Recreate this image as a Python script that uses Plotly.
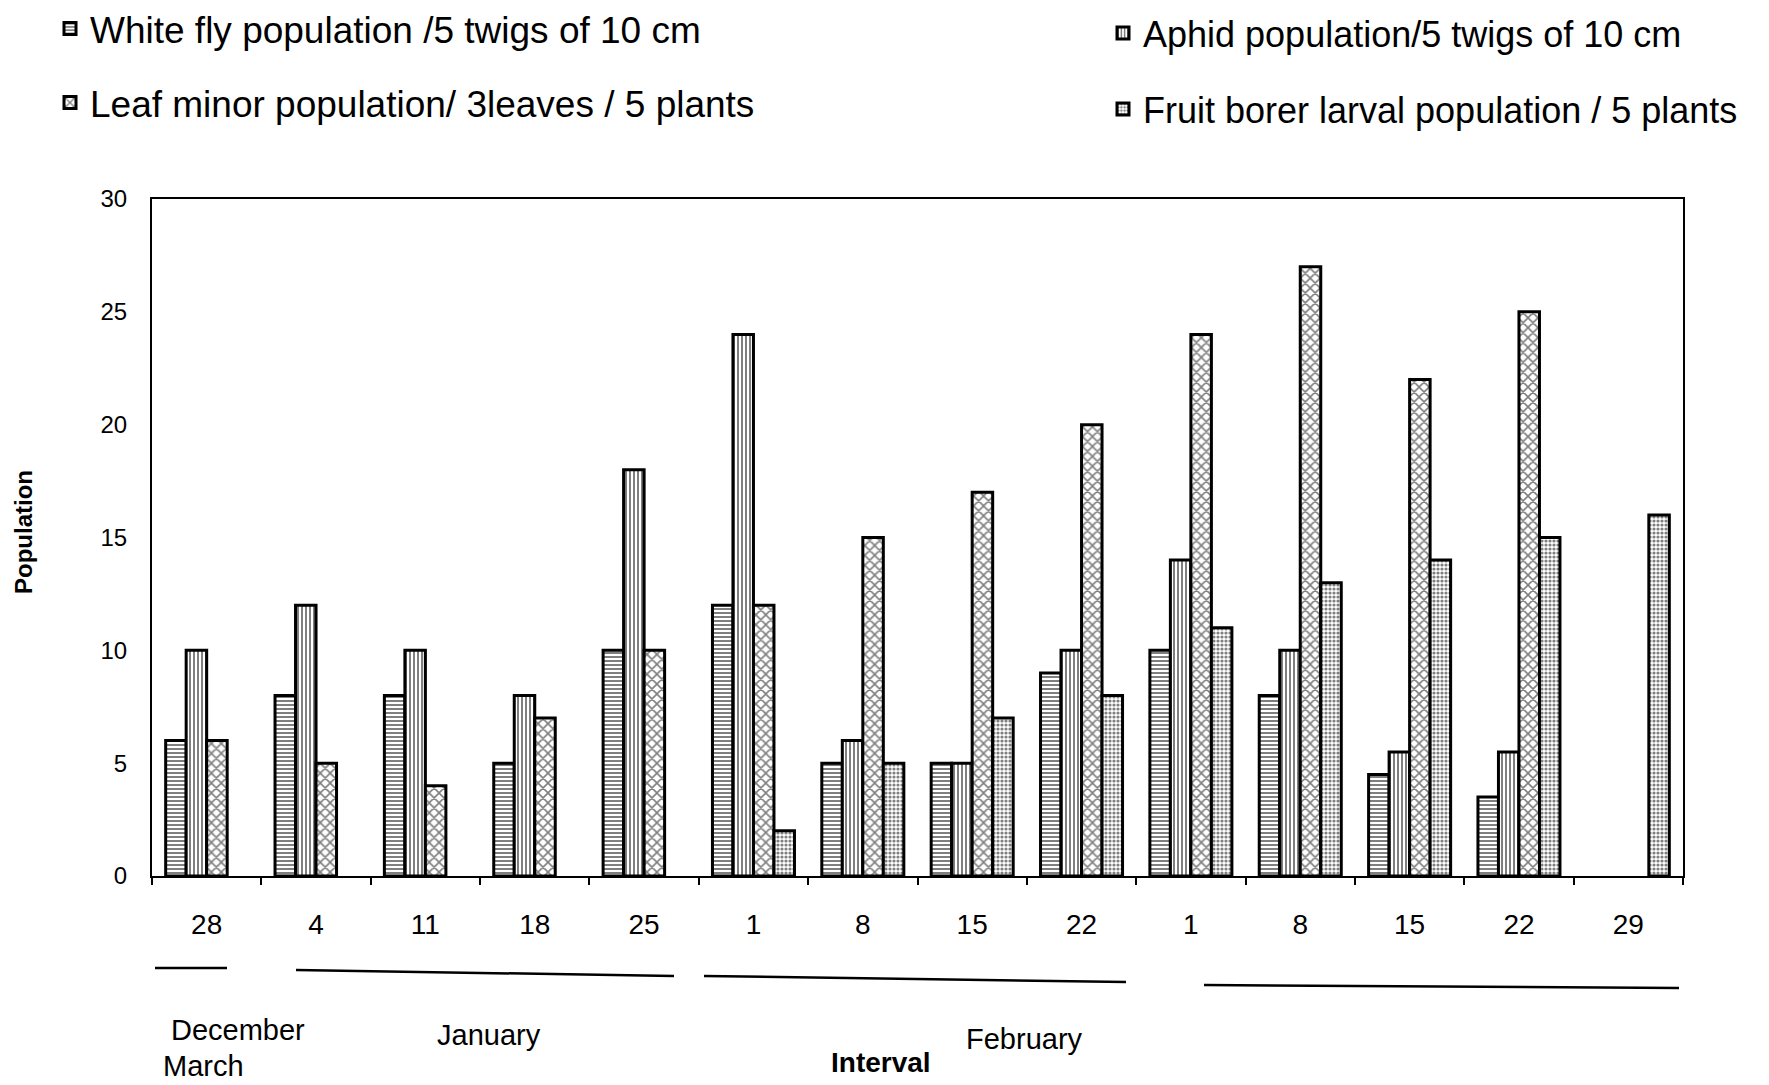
import plotly.graph_objects as go

# ---- data ----
dates = ["28", "4", "11", "18", "25", "1", "8", "15", "22", "1", "8", "15", "22", "29"]
white_fly = [6, 8, 8, 5, 10, 12, 5, 5, 9, 10, 8, 4.5, 3.5, None]
aphid = [10, 12, 10, 8, 18, 24, 6, 5, 10, 14, 10, 5.5, 5.5, None]
leaf_minor = [6, 5, 4, 7, 10, 12, 15, 17, 20, 24, 27, 22, 25, None]
fruit_borer = [None, None, None, None, None, 2, 5, 7, 8, 11, 13, 14, 15, 16]

series_names = [
    "White fly population /5 twigs of 10 cm",
    "Aphid population/5 twigs of 10 cm",
    "Leaf minor population/ 3leaves / 5 plants",
    "Fruit borer larval population / 5 plants",
]

FONT = "Arial, Liberation Sans, sans-serif"
x = list(range(len(dates)))

patterns = [
    dict(shape="-", size=4, solidity=0.5, fgcolor="black", bgcolor="white"),
    dict(shape="|", size=4, solidity=0.5, fgcolor="black", bgcolor="white"),
    dict(shape="x", size=7, solidity=0.4, fgcolor="black", bgcolor="white"),
    dict(shape=".", size=4, solidity=0.5, fgcolor="black", bgcolor="white"),
]
values = [white_fly, aphid, leaf_minor, fruit_borer]
legends = ["legend", "legend3", "legend2", "legend4"]

fig = go.Figure()
for name, vals, pat, lg in zip(series_names, values, patterns, legends):
    fig.add_trace(go.Bar(
        x=x, y=vals, name=name, legend=lg, showlegend=True,
        marker=dict(color="white", pattern=pat, line=dict(color="black", width=3)),
    ))

W, H = 1769, 1085
OFF = 8  # page body margin
ML, MR, MT, MB = 144, 94, 191, 217
PL, PT = ML + OFF, MT + OFF            # plot area on screen
PW, PH = W - ML - MR, H - MT - MB
PB = PT + PH
CAT = PW / len(dates)

def px_x(sx):   # screen x -> data x
    return (sx - PL) / CAT - 0.5

def px_xp(sx):  # screen x -> paper x
    return (sx - PL) / PW

def px_y(sy):   # screen y -> paper y
    return (PB - sy) / PH

def leg(sx, sy, size):
    return dict(xref="paper", yref="paper", x=px_xp(sx), y=px_y(sy),
                xanchor="left", yanchor="middle", bgcolor="rgba(0,0,0,0)",
                font=dict(family=FONT, size=size, color="black"),
                itemwidth=30, orientation="v")

fig.update_layout(
    width=W, height=H, showlegend=True,
    paper_bgcolor="white", plot_bgcolor="white",
    margin=dict(l=ML, r=MR, t=MT, b=MB, autoexpand=False),
    barmode="group", bargap=0.25, bargroupgap=0,
    font=dict(family=FONT, color="black"),
    legend=leg(50, 29, 37),
    legend2=leg(50, 103, 37),
    legend3=leg(1103, 33, 36),
    legend4=leg(1103, 109, 36),
    xaxis=dict(
        range=[-0.5, len(dates) - 0.5],
        tickmode="array", tickvals=x, ticktext=dates,
        ticks="", ticklabelstandoff=22, tickangle=0,
        tickfont=dict(family=FONT, size=28, color="black"),
        showline=True, linecolor="black", linewidth=2, mirror=True,
        showgrid=False, zeroline=False,
        minor=dict(tickmode="array", tickvals=[i - 0.5 for i in x] + [len(dates) - 0.5],
                   ticks="outside", ticklen=7, tickcolor="black", tickwidth=1.5),
    ),
    yaxis=dict(
        range=[0, 30], dtick=5,
        tickfont=dict(family=FONT, size=24, color="black"),
        ticks="", ticklabelstandoff=18,
        showline=True, linecolor="black", linewidth=2, mirror=True,
        showgrid=False, zeroline=False,
    ),
)

# y-axis title
fig.add_annotation(text="<b>Population</b>", textangle=-90, xref="paper", yref="paper",
                   x=px_xp(23), y=px_y(532), xanchor="center", yanchor="middle",
                   showarrow=False, font=dict(family=FONT, size=24, color="black"))

# month underlines (screen coordinates of the reference)
lines = [(155, 227, 968, 968), (296, 674, 970, 976),
         (704, 1126, 976, 982), (1204, 1679, 985, 988)]
for sx0, sx1, sy0, sy1 in lines:
    fig.add_shape(type="line", xref="x", yref="paper",
                  x0=px_x(sx0), x1=px_x(sx1), y0=px_y(sy0), y1=px_y(sy1),
                  line=dict(color="black", width=2.5))

ann = [("December", 238, 1030, False), ("March", 203, 1066, False),
       ("January", 489, 1035, False), ("February", 1024, 1039, False),
       ("Interval", 881, 1062, True)]
for txt, sx, sy, bold in ann:
    fig.add_annotation(text=f"<b>{txt}</b>" if bold else txt,
                       x=px_x(sx), y=px_y(sy), xref="x", yref="paper",
                       xanchor="center", yanchor="middle", showarrow=False,
                       font=dict(family=FONT, size=29 if not bold else 28, color="black"))

fig.write_html("out.html")
